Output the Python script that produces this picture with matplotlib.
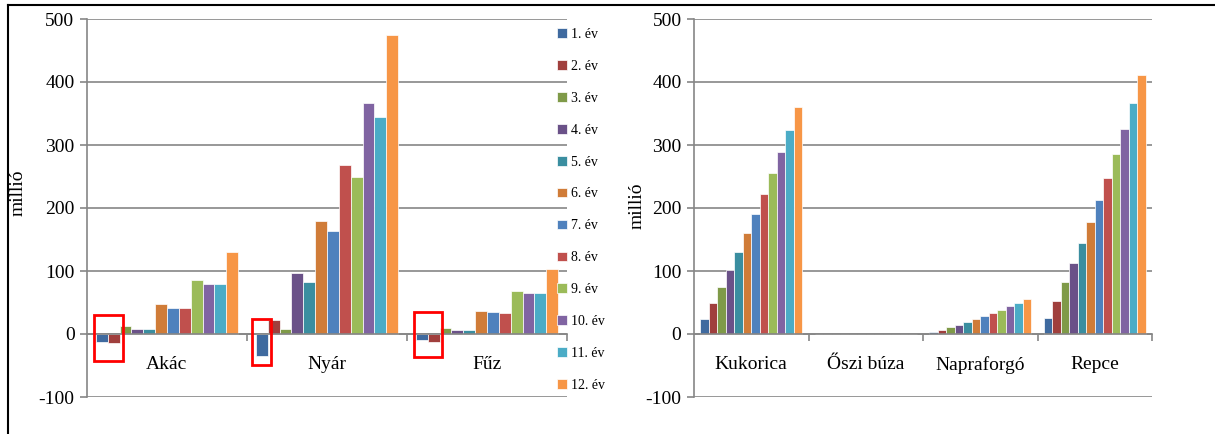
import matplotlib
matplotlib.use("Agg")
import matplotlib.pyplot as plt
import numpy as np
from matplotlib.patches import Rectangle
from matplotlib.lines import Line2D

plt.rcParams['font.family'] = ['Liberation Serif', 'DejaVu Serif']
plt.rcParams['axes.unicode_minus'] = False

# data (millió)
years = ['1. év', '2. év', '3. év', '4. év', '5. év', '6. év',
         '7. év', '8. év', '9. év', '10. év', '11. év', '12. év']
colors = ['#3F6A9F', '#A03F3D', '#7F9A48', '#6A5188', '#3A8EA0', '#D07C38',
          '#4F81BD', '#C0504D', '#9BBB59', '#8064A2', '#4BACC6', '#F79646']

left_cats = ['Akác', 'Nyár', 'Fűz']
akac = [-13, -15, 13, 8, 8, 47, 41, 41, 86, 80, 80, 130]
nyar = [-35, 23, 8, 97, 82, 179, 163, 269, 249, 367, 345, 475]
fuz = [-10, -12, 10, 7, 7, 37, 35, 33, 68, 65, 65, 103]

right_cats = ['Kukorica', 'Őszi búza', 'Napraforgó', 'Repce']
kukorica = [24, 49, 75, 102, 130, 160, 190, 222, 255, 289, 324, 361]
oszi_buza = [0] * 12
napraforgo = [2.5, 7, 10.5, 15, 18.5, 24, 28, 33, 38, 44, 49, 55]
repce = [25, 53, 82, 113, 144, 177, 212, 248, 286, 326, 366, 411]

# red boxes around negative values: (x0, x1, y0, y1) in data units
boxes = [(-0.456, -0.275, -43, 30), (0.531, 0.65, -49, 24), (1.544, 1.719, -37, 35)]

W, H = 1215, 434
fig = plt.figure(figsize=(W / 100, H / 100), dpi=100)

grid_c = '#868686'
bw = 1 / 13.5


def draw(ax, cats, series):
    x = np.arange(len(cats))
    vals = np.array(series)  # shape (ncat, 12)
    for k in range(12):
        ax.bar(x + (k - 5.5) * bw, vals[:, k], bw, color=colors[k],
               edgecolor='white', linewidth=0.5, label=years[k], zorder=3)
    ax.set_xlim(-0.5, len(cats) - 0.5)
    ax.set_ylim(-100, 500)
    ax.set_yticks(range(-100, 501, 100))
    ax.yaxis.grid(True, color=grid_c, linewidth=1.2, zorder=0)
    ax.set_axisbelow(True)
    for s in ['top', 'right']:
        ax.spines[s].set_visible(False)
    ax.spines['left'].set_color(grid_c)
    ax.spines['left'].set_linewidth(1.2)
    ax.spines['bottom'].set_position(('data', 0))
    ax.spines['bottom'].set_color(grid_c)
    ax.spines['bottom'].set_linewidth(1.2)
    ax.spines['bottom'].set_zorder(4)
    ax.set_xticks(np.arange(len(cats)) + 0.5)
    ax.set_xticklabels([])
    ax.set_xticks(x, minor=True)
    ax.set_xticklabels(cats, minor=True)
    ax.tick_params(axis='x', which='major', direction='out', length=5,
                   color=grid_c, width=1.2)
    ax.tick_params(axis='x', which='minor', length=0, pad=16, labelsize=14)
    ax.tick_params(axis='y', direction='out', length=5, color=grid_c,
                   width=1.2, labelsize=14, pad=4)
    ax.set_ylabel('millió', fontsize=14)


ax1 = fig.add_axes([87 / W, 37 / H, 480 / W, 378 / H])
draw(ax1, left_cats, [akac, nyar, fuz])
ax1.yaxis.set_label_coords(-0.125, 0.54)
for x0, x1, y0, y1 in boxes:
    ax1.add_patch(Rectangle((x0, y0), x1 - x0, y1 - y0, fill=False,
                            edgecolor='#FF0000', linewidth=2, zorder=5,
                            clip_on=False))

ax2 = fig.add_axes([694 / W, 37 / H, 458 / W, 378 / H])
draw(ax2, right_cats, [kukorica, oszi_buza, napraforgo, repce])
ax2.yaxis.set_label_coords(-0.105, 0.505)

handles, labels = ax1.get_legend_handles_labels()
fig.legend(handles, labels, loc='upper left',
           bbox_to_anchor=(557 / W, (H - 28) / H), frameon=False,
           fontsize=10, handlelength=0.7, handleheight=0.7,
           handletextpad=0.3, labelspacing=1.36, borderpad=0,
           borderaxespad=0)

# outer frame lines (top and left)
fig.add_artist(Line2D([8 / W, 1], [1 - 5 / H, 1 - 5 / H], color='black',
                      linewidth=1.5, transform=fig.transFigure))
fig.add_artist(Line2D([8 / W, 8 / W], [0, 1 - 5 / H], color='black',
                      linewidth=1.5, transform=fig.transFigure))

fig.savefig('out.png', dpi=100)
